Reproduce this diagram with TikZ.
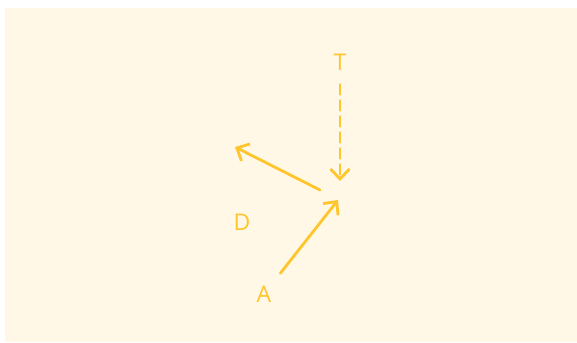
\documentclass[tikz,border=0pt]{standalone}
\usepackage{fontspec}
\setmainfont{Open Sans}
\definecolor{FlowCream}{HTML}{FFF8E7}
\definecolor{FlowAmber}{HTML}{FFC52C}
\usetikzlibrary{arrows.meta,positioning}

\begin{document}
\begin{tikzpicture}[
    x=1pt, y=-1pt,
    lbl/.style={text=FlowAmber, font=\fontsize{23}{26}\selectfont, inner sep=6pt},
    arr/.style={-{Straight Barb[length=10pt,width=19pt]}, line width=2.8pt, FlowAmber, line cap=round},
    darr/.style={arr, dash pattern=on 10pt off 6pt}
  ]
    \useasboundingbox (0,0) rectangle (577,342);
    \fill[FlowCream] (5,8) rectangle (577,342);
    \node[lbl] (T) at (340,62) {T};
    \node[lbl] (D) at (242,222) {D};
    \node[lbl] (A) at (264,294) {A};
    \coordinate (inT) at (340,181);
    \coordinate (inA) at (338,200);
    \coordinate (outD) at (320,190);
    \coordinate (endD) at (235,147);
    \draw[darr, shorten <=8pt] (T) -- (inT);
    \draw[arr, shorten <=8pt] (A) -- (inA);
    \draw[arr] (outD) -- (endD);
  \end{tikzpicture}
\end{document}
